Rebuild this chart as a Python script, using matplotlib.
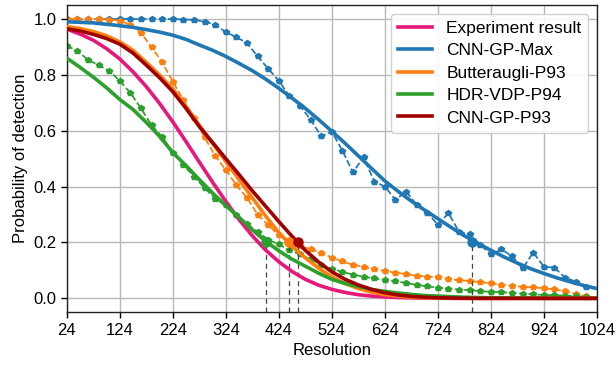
import numpy as np
import matplotlib
matplotlib.use("Agg")
import matplotlib.pyplot as plt

plt.rcParams['font.family'] = ['Liberation Sans', 'DejaVu Sans']

# ---------------- data ----------------
# fitted (solid) curves, read every 25 units of resolution
fit_x = list(range(24, 1025, 25))
experiment = [0.964, 0.946, 0.924, 0.894, 0.857, 0.811, 0.758, 0.698, 0.632,
              0.561, 0.488, 0.416, 0.347, 0.282, 0.224, 0.173, 0.131, 0.096,
              0.068, 0.047, 0.032, 0.021, 0.013, 0.008, 0.005, 0.003, 0.0016,
              0.001, 0.0005, 0, 0, 0, 0, 0, 0, 0, 0, 0, 0, 0, 0]
cnn_gp_max = [0.99, 0.988, 0.986, 0.981, 0.976, 0.97, 0.962, 0.953, 0.942,
              0.927, 0.907, 0.888, 0.866, 0.841, 0.815, 0.785, 0.752, 0.717,
              0.68, 0.64, 0.598, 0.555, 0.51, 0.465, 0.42, 0.383, 0.348,
              0.316, 0.285, 0.254, 0.224, 0.197, 0.172, 0.148, 0.126, 0.106,
              0.089, 0.073, 0.059, 0.046, 0.035]
butteraugli = [0.973, 0.966, 0.955, 0.94, 0.918, 0.888, 0.845, 0.8, 0.75,
               0.688, 0.62, 0.555, 0.49, 0.425, 0.36, 0.295, 0.235, 0.186,
               0.145, 0.108, 0.077, 0.053, 0.035, 0.022, 0.013, 0.008, 0.004,
               0.002, 0.001, 0.0005, 0, 0, 0, 0, 0, 0, 0, 0, 0, 0, 0]
hdr_vdp = [0.86, 0.827, 0.792, 0.754, 0.712, 0.676, 0.63, 0.58, 0.522, 0.475,
           0.425, 0.377, 0.332, 0.29, 0.245, 0.205, 0.17, 0.14, 0.115, 0.09,
           0.068, 0.053, 0.042, 0.032, 0.025, 0.019, 0.014, 0.01, 0.008,
           0.006, 0.004, 0.003, 0.002, 0.0015, 0.001, 0.0005, 0, 0, 0, 0, 0]
cnn_gp_p93 = [0.965, 0.957, 0.945, 0.93, 0.91, 0.878, 0.835, 0.79, 0.74,
              0.68, 0.615, 0.558, 0.50, 0.443, 0.385, 0.33, 0.275, 0.222,
              0.172, 0.13, 0.095, 0.068, 0.048, 0.032, 0.02, 0.012, 0.007,
              0.004, 0.002, 0.001, 0.0005, 0, 0, 0, 0, 0, 0, 0, 0, 0, 0]

# raw measured probabilities (dashed), every 20 units of resolution
raw_x = list(range(24, 1005, 20))
raw_cnn_gp_max = [1.0, 1.0, 1.0, 1.0, 1.0, 1.0, 1.0, 1.0, 1.0, 1.0, 1.0,
                  0.998, 0.997, 0.99, 0.98, 0.953, 0.935, 0.914, 0.866, 0.822,
                  0.779, 0.724, 0.689, 0.64, 0.58, 0.597, 0.528, 0.451, 0.506,
                  0.418, 0.40, 0.353, 0.382, 0.335, 0.307, 0.263, 0.305, 0.238,
                  0.229, 0.192, 0.157, 0.175, 0.151, 0.107, 0.164, 0.113, 0.11,
                  0.074, 0.06, 0.04]
raw_butteraugli = [1.0, 1.0, 1.0, 1.0, 0.998, 0.994, 0.98, 0.951, 0.899, 0.845,
                   0.776, 0.71, 0.645, 0.576, 0.51, 0.46, 0.405, 0.36, 0.30,
                   0.262, 0.227, 0.20, 0.187, 0.176, 0.163, 0.146, 0.132, 0.12,
                   0.112, 0.105, 0.098, 0.092, 0.087, 0.081, 0.078, 0.075,
                   0.069, 0.065, 0.062, 0.058, 0.054, 0.049, 0.045, 0.041,
                   0.039, 0.036, 0.032, 0.025, 0.016, 0.007]
raw_hdr_vdp = [0.904, 0.886, 0.854, 0.835, 0.815, 0.778, 0.736, 0.68, 0.62,
               0.578, 0.522, 0.478, 0.436, 0.395, 0.357, 0.333, 0.298, 0.267,
               0.238, 0.21, 0.193, 0.173, 0.157, 0.14, 0.12, 0.105, 0.095,
               0.085, 0.077, 0.071, 0.066, 0.061, 0.055, 0.048, 0.043, 0.038,
               0.035, 0.031, 0.029, 0.026, 0.023, 0.022, 0.019, 0.017, 0.014,
               0.012, 0.011, 0.01, 0.008, 0.006]

# resolution at which each fitted curve crosses the detection threshold
threshold = 0.2
thr_names = ['HDR-VDP-P94', 'Butteraugli-P93', 'CNN-GP-P93', 'CNN-GP-Max']
thr_x = [400, 443, 460, 788]

labels = ['Experiment result', 'CNN-GP-Max', 'Butteraugli-P93',
          'HDR-VDP-P94', 'CNN-GP-P93']
xticks = [24, 124, 224, 324, 424, 524, 624, 724, 824, 924, 1024]
yticks = [0.0, 0.2, 0.4, 0.6, 0.8, 1.0]

# ---------------- style ----------------
c_pink = '#e8187a'
c_blue = '#1f77b4'
c_orange = '#ff7f0e'
c_green = '#2ca02c'
c_dred = '#a00000'
thr_colors = [c_green, c_orange, c_dred, c_blue]

fig = plt.figure(figsize=(6.16, 3.65), dpi=100)
ax = fig.add_axes([0.1083, 0.1444, 0.8607, 0.8419])

ax.grid(True, color='#b8b8b8', linewidth=1.0, zorder=0)
ax.set_axisbelow(True)

dash_kw = dict(linestyle='--', linewidth=1.25, marker='p', markersize=4.0,
               zorder=2)
ax.plot(raw_x, raw_cnn_gp_max, color=c_blue, **dash_kw)
ax.plot(raw_x, raw_butteraugli, color=c_orange, **dash_kw)
ax.plot(raw_x, raw_hdr_vdp, color=c_green, **dash_kw)

lw = 2.6
ax.plot(fit_x, experiment, color=c_pink, lw=lw, label=labels[0], zorder=3)
ax.plot(fit_x, cnn_gp_max, color=c_blue, lw=lw, label=labels[1], zorder=3)
ax.plot(fit_x, butteraugli, color=c_orange, lw=lw, label=labels[2], zorder=3)
ax.plot(fit_x, hdr_vdp, color=c_green, lw=lw, label=labels[3], zorder=3)
ax.plot(fit_x, cnn_gp_p93, color=c_dred, lw=lw, label=labels[4], zorder=3)

for xv, col in zip(thr_x, thr_colors):
    ax.plot([xv, xv], [-0.05, threshold], color='#444444', lw=0.9,
            linestyle=(0, (4, 3)), zorder=2)
    ax.plot([xv], [threshold], 'o', color=col, markersize=6.5, zorder=4)

ax.set_xlim(24, 1024)
ax.set_ylim(-0.05, 1.05)
ax.set_xticks(xticks)
ax.set_yticks(yticks)
ax.set_yticklabels([f'{v:.1f}' for v in yticks])
ax.tick_params(labelsize=12, length=4, width=1, colors='black')
ax.set_xlabel('Resolution', fontsize=12)
ax.set_ylabel('Probability of detection', fontsize=12)
for s in ax.spines.values():
    s.set_color('#222222')
    s.set_linewidth(1.0)

ax.legend(loc='upper right', fontsize=12.5, framealpha=0.9, edgecolor='#cccccc',
          labelspacing=0.42)

fig.savefig('out.png', dpi=100)
